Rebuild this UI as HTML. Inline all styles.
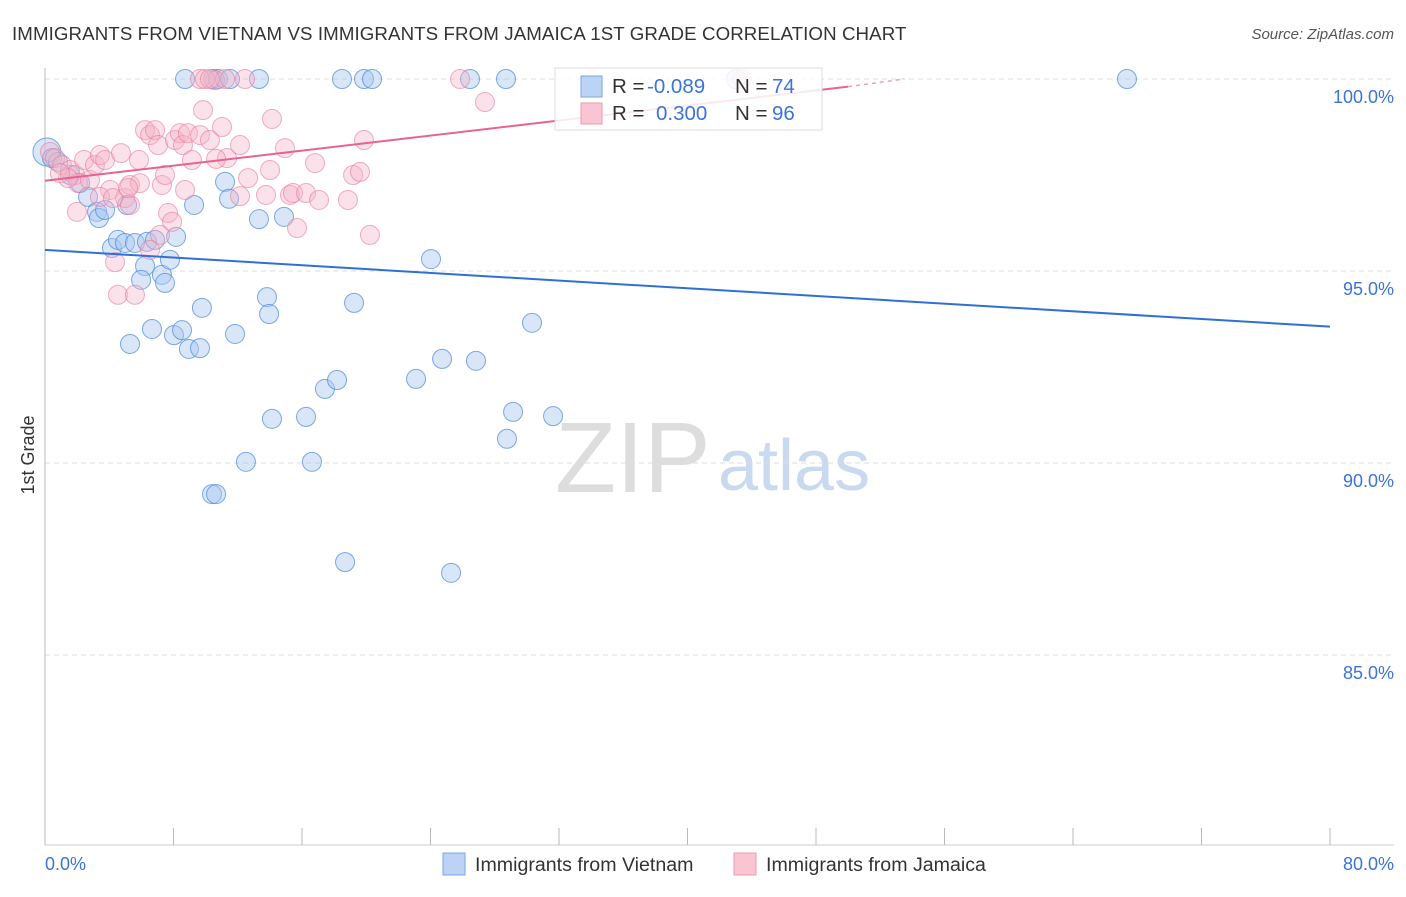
<!DOCTYPE html>
<html><head><meta charset="utf-8"><style>
body{margin:0;background:#fff;font-family:"Liberation Sans",sans-serif;}
svg text{font-family:"Liberation Sans",sans-serif;}
</style></head><body>
<svg width="1406" height="892">
<text x="12" y="40" font-size="18.7" letter-spacing="0.1" fill="#333">IMMIGRANTS FROM VIETNAM VS IMMIGRANTS FROM JAMAICA 1ST GRADE CORRELATION CHART</text>
<text x="1394" y="39" font-size="15" fill="#555" font-style="italic" text-anchor="end">Source: ZipAtlas.com</text>
<text x="555" y="492" font-size="100" fill="#ddd" font-family="Liberation Serif,serif">ZIP</text>
<text x="718" y="490" font-size="72" fill="#c9d9ef">atlas</text>
<g id="grid"></g><g id="axes"></g><g id="pts"></g><g id="lines"></g>
<text transform="translate(34,455) rotate(-90)" font-size="18" fill="#333" text-anchor="middle">1st Grade</text>
<text x="45" y="870" font-size="18" fill="#3b73d9">0.0%</text>
<text x="1394" y="870" font-size="18" fill="#3b73d9" text-anchor="end">80.0%</text>
<g>
<rect x="555" y="68" width="267" height="62" fill="#fff" fill-opacity="0.85" stroke="#ddd"/>
<rect x="581" y="76" width="21" height="21" fill="#bcd3f5" stroke="#7aa6e6"/>
<rect x="581" y="103" width="21" height="21" fill="#f9c5d3" stroke="#ee99b2"/>
<text x="612" y="93" font-size="20.5" fill="#333">R =</text>
<text x="647" y="93" font-size="20.5" fill="#3b73d9">-0.089</text>
<text x="735" y="93" font-size="20.5" fill="#333">N =</text>
<text x="772" y="93" font-size="20.5" fill="#3b73d9">74</text>
<text x="612" y="120" font-size="20.5" fill="#333">R =</text>
<text x="656" y="120" font-size="20.5" fill="#3b73d9">0.300</text>
<text x="735" y="120" font-size="20.5" fill="#333">N =</text>
<text x="772" y="120" font-size="20.5" fill="#3b73d9">96</text>
</g>
<g>
<rect x="443" y="853" width="22" height="22" fill="#bcd3f5" stroke="#7aa6e6"/>
<text x="475" y="871" font-size="19.6" fill="#333">Immigrants from Vietnam</text>
<rect x="734" y="853" width="22" height="22" fill="#f9c5d3" stroke="#ee99b2"/>
<text x="766" y="871" font-size="19.6" fill="#333">Immigrants from Jamaica</text>
</g>
</svg>
<script>
const yTicks=[100,95,90,85];
const yTickLabels=["100.0%","95.0%","90.0%","85.0%"];
const xTicks=[0,8,16,24,32,40,48,56,64,72,80];
const bluePx=[[47,152],[52,158],[58,162],[70,175],[80,183],[88,197],[97,212],[99,218],[105,210],[112,248],[118,240],[125,243],[127,205],[135,243],[145,266],[147,242],[155,240],[162,275],[165,283],[170,260],[176,237],[141,280],[130,344],[152,329],[174,335],[182,330],[189,349],[200,348],[202,308],[212,494],[216,494],[235,334],[246,462],[194,205],[225,182],[229,199],[259,219],[267,297],[269,314],[272,419],[284,217],[306,417],[312,462],[325,389],[337,380],[345,562],[354,303],[416,379],[431,259],[442,359],[451,573],[476,361],[507,439],[513,412],[532,323],[553,416],[185,79],[213,79],[218,79],[230,79],[259,79],[342,79],[364,79],[372,79],[470,79],[506,79],[1127,79],[736,79]];
const pinkPx=[[50,152],[55,158],[62,165],[70,170],[75,175],[78,183],[84,160],[90,180],[95,165],[100,155],[105,160],[110,190],[115,262],[118,295],[121,153],[125,198],[130,185],[135,295],[139,160],[140,183],[145,130],[150,135],[155,130],[158,145],[162,185],[165,175],[168,213],[172,222],[175,140],[180,133],[185,190],[183,145],[188,133],[192,160],[200,135],[203,110],[210,140],[215,80],[222,127],[227,158],[240,145],[248,178],[270,170],[272,119],[266,195],[285,148],[290,195],[293,193],[297,228],[306,193],[315,163],[319,200],[348,200],[353,175],[360,172],[364,140],[370,235],[245,79],[200,79],[205,79],[225,79],[210,79],[460,79],[485,102],[742,79],[77,212],[100,197],[113,198],[68,178],[60,173],[130,205],[160,235],[150,250],[128,188],[216,159],[240,196]];
const blueX=bluePx.map(p=>+((p[0]-45)/16.0625).toFixed(2));
const blueY=bluePx.map(p=>+(100-(p[1]-79)/38.4).toFixed(2));
const pinkX=pinkPx.map(p=>+((p[0]-45)/16.0625).toFixed(2));
const pinkY=pinkPx.map(p=>+(100-(p[1]-79)/38.4).toFixed(2));
const blueTrend=[[0,95.55],[80,93.55]];
const pinkTrend=[[0,97.35],[50,99.8]];
const pinkTrendDash=[[50,99.8],[53.5,100]];
const X=v=>45+v*1285/80, Y=v=>79+(100-v)*38.4;
const NS="http://www.w3.org/2000/svg";
function mk(t,a,p){const e=document.createElementNS(NS,t);for(const k in a)e.setAttribute(k,a[k]);p.appendChild(e);return e;}
const grid=document.getElementById('grid'),axes=document.getElementById('axes');
yTicks.forEach((v,i)=>{
 const l=mk('line',{x1:45,x2:1394,y1:Y(v),y2:Y(v),stroke:'#ddd','stroke-dasharray':'5,4'},grid);
 
 
 const t=mk('text',{x:1394,y:Y(v)+24,'font-size':18,fill:'#3b73d9','text-anchor':'end'},axes);
 t.textContent=yTickLabels[i];
 
 
});
const ax=mk('line',{x1:45,x2:1394,y1:845,y2:845,stroke:'#ccc'},axes);


const ay=mk('line',{x1:45,x2:45,y1:68,y2:845,stroke:'#bbb'},axes);


xTicks.forEach(v=>{
 const t=mk('line',{x1:X(v),x2:X(v),y1:828,y2:845,stroke:'#bbb'},axes);
 
 
});
const pts=document.getElementById('pts');
blueX.forEach((x,i)=>{
 const c=mk('circle',{cx:X(x),cy:Y(blueY[i]),r:i==0?14:9.5,fill:'#a9c8f0','fill-opacity':0.45,stroke:'#4a86dc','stroke-opacity':0.7},pts);
 
 
});
pinkX.forEach((x,i)=>{
 const c=mk('circle',{cx:X(x),cy:Y(pinkY[i]),r:9.5,fill:'#f6b3c7','fill-opacity':0.4,stroke:'#e8799c','stroke-opacity':0.6},pts);
 
 
});
const lines=document.getElementById('lines');
const bl=mk('line',{x1:X(blueTrend[0][0]),y1:Y(blueTrend[0][1]),x2:X(blueTrend[1][0]),y2:Y(blueTrend[1][1]),stroke:'#2f6fd6','stroke-width':2},lines);


const pl=mk('line',{x1:X(pinkTrend[0][0]),y1:Y(pinkTrend[0][1]),x2:X(pinkTrend[1][0]),y2:Y(pinkTrend[1][1]),stroke:'#e8638f','stroke-width':2},lines);


const pd=mk('line',{x1:X(pinkTrendDash[0][0]),y1:Y(pinkTrendDash[0][1]),x2:X(pinkTrendDash[1][0]),y2:Y(pinkTrendDash[1][1]),stroke:'#e8a0b8','stroke-width':1.5,'stroke-dasharray':'4,4'},lines);


</script>
</body></html>
